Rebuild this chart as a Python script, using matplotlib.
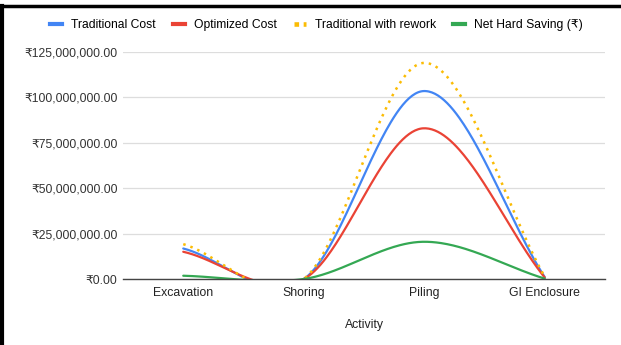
import numpy as np
import matplotlib.pyplot as plt
from matplotlib.lines import Line2D
from matplotlib.ticker import FuncFormatter

plt.rcParams['font.family'] = ['Liberation Sans', 'DejaVu Sans']

# ---- data ----
activities = ["Excavation", "Shoring", "Piling", "GI Enclosure"]
traditional_cost = [16.8e6, 0.0, 103.5e6, 1.0e6]
optimized_cost = [15.0e6, 0.0, 83.0e6, 0.8e6]
traditional_rework = [19.2e6, 0.0, 119.0e6, 1.15e6]
net_hard_saving = [1.8e6, 0.0, 20.5e6, 0.2e6]
y_ticks = [0, 25e6, 50e6, 75e6, 100e6, 125e6]


def smooth(values, n=80):
    # catmull-rom style curve through the points (like the sheets "smooth" option)
    y = np.asarray(values, dtype=float)
    x = np.arange(len(y), dtype=float)
    m = np.zeros_like(y)
    m[1:-1] = (y[2:] - y[:-2]) / 2
    m[0] = y[1] - y[0]
    m[-1] = y[-1] - y[-2]
    xs, ys = [], []
    for i in range(len(y) - 1):
        t = np.linspace(0, 1, n)
        h00 = 2 * t**3 - 3 * t**2 + 1
        h10 = t**3 - 2 * t**2 + t
        h01 = -2 * t**3 + 3 * t**2
        h11 = t**3 - t**2
        xs.append(x[i] + t)
        ys.append(h00 * y[i] + h10 * m[i] + h01 * y[i + 1] + h11 * m[i + 1])
    return np.concatenate(xs), np.concatenate(ys)


fig = plt.figure(figsize=(6.21, 3.45), dpi=100)
ax = fig.add_axes([123 / 621, 1 - 279 / 345, (605 - 123) / 621, (279 - 52) / 345])

series = [
    ("Traditional Cost", traditional_cost, "#4285F4", "-"),
    ("Optimized Cost", optimized_cost, "#EA4335", "-"),
    ("Traditional with rework", traditional_rework, "#FBBC04", (0, (1, 2))),
    ("Net Hard Saving (₹)", net_hard_saving, "#34A853", "-"),
]
handles = []
for name, vals, col, ls in series:
    xs, ys = smooth(vals)
    ax.plot(xs, ys, color=col, lw=1.6 if ls == "-" else 1.8, ls=ls,
            solid_capstyle="round", zorder=3)
    if ls == "-":
        handles.append(Line2D([], [], color=col, lw=3, label=name))
    else:
        handles.append(Line2D([], [], color=col, lw=3.3, ls=(0, (1, 1)),
                              dash_capstyle="butt", label=name))

ax.set_xlim(-0.5, len(activities) - 0.5)
ax.set_ylim(0, 125e6)
ax.set_xticks(range(len(activities)))
ax.set_xticklabels(activities, fontsize=8.8, color="#222222")
ax.set_yticks(y_ticks)
ax.yaxis.set_major_formatter(FuncFormatter(lambda v, p: "₹{:,.2f}".format(v)))
ax.tick_params(axis="y", length=0, labelsize=8.7, labelcolor="#333333", pad=4)
ax.tick_params(axis="x", length=0, pad=6)
ax.grid(axis="y", color="#dddddd", lw=0.9)
ax.set_axisbelow(True)
for s in ["top", "right", "left"]:
    ax.spines[s].set_visible(False)
ax.spines["bottom"].set_color("#444444")
ax.spines["bottom"].set_linewidth(1.0)
ax.spines["bottom"].set_zorder(4)
ax.set_xlabel("Activity", fontsize=8.8, color="#222222", labelpad=14)

fig.legend(handles=handles, loc="center", bbox_to_anchor=(316.5 / 621, 1 - 25 / 345),
           ncol=4, frameon=False, fontsize=8.7, handlelength=1.0, handletextpad=0.75,
           columnspacing=1.4, borderpad=0)

# partial black frame (top and left) seen on the screenshot
fig.add_artist(Line2D([0, 1], [1 - 6 / 345, 1 - 6 / 345], color="black", lw=2.5,
                      transform=fig.transFigure))
fig.add_artist(Line2D([2 / 621, 2 / 621], [0, 1 - 6 / 345], color="black", lw=3,
                      transform=fig.transFigure))

fig.savefig("out.png", dpi=100, facecolor="white")
